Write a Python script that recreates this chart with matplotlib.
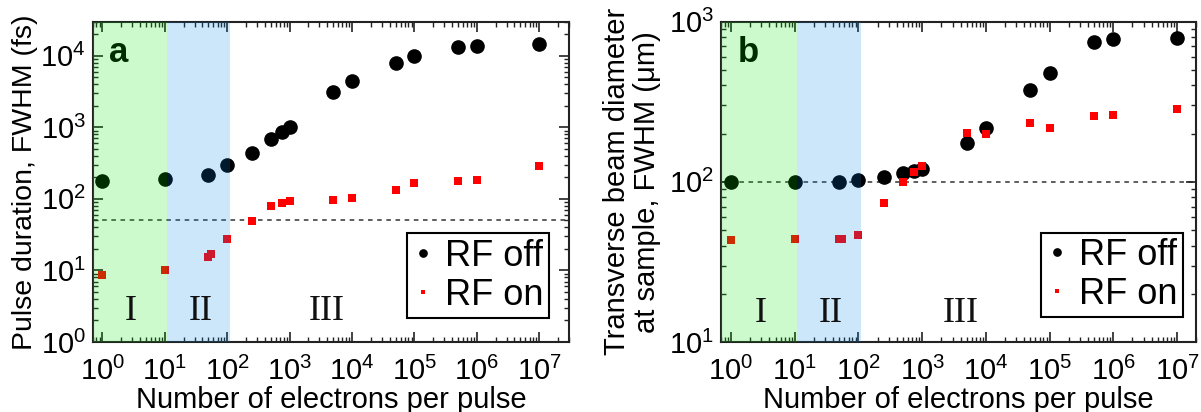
import matplotlib
matplotlib.use("Agg")
import matplotlib.pyplot as plt
import numpy as np
from matplotlib.ticker import LogLocator, NullFormatter

plt.rcParams['font.family'] = ['Liberation Sans', 'DejaVu Sans']
plt.rcParams['mathtext.fontset'] = 'custom'
plt.rcParams['mathtext.rm'] = 'Liberation Sans'

# ---- data ----
n_off = [1, 10, 50, 100, 250, 500, 750, 1000, 5000, 1e4, 5e4, 1e5, 5e5, 1e6, 1e7]
n_on_a = [1, 10, 50, 56, 100, 250, 500, 750, 1000, 5000, 1e4, 5e4, 1e5, 5e5, 1e6, 1e7]
dur_off = [175, 188, 214, 300, 434, 687, 869, 1020, 3090, 4470, 7950, 9860, 13200, 13900, 14400]
dur_on = [8.7, 10.2, 15.4, 17.0, 27.9, 48.9, 80, 88, 92, 95, 102, 131, 169, 177, 182, 286]

n_on_b = [1, 10, 50, 56, 100, 250, 500, 750, 1000, 5000, 1e4, 5e4, 1e5, 5e5, 1e6, 1e7]
diam_off = [100, 100, 100, 102, 107, 113, 117, 121, 174, 218, 374, 478, 750, 776, 794]
diam_on = [43.3, 43.7, 44, 43.7, 46.3, 73.6, 100, 115, 126, 202, 200, 233, 218, 258, 260, 283]

dur_ref = 50
diam_ref = 100
region_edges = [11, 110]
region_labels = ['I', 'II', 'III']

fig = plt.figure(figsize=(12.01, 4.12), dpi=100)
ax1 = fig.add_axes([0.0772, 0.170, 0.3966, 0.7774])
ax2 = fig.add_axes([0.6005, 0.170, 0.3955, 0.7774])


def style(ax, xlim, ylim):
    ax.set_xscale('log')
    ax.set_yscale('log')
    ax.set_xlim(*xlim)
    ax.set_ylim(*ylim)
    ax.xaxis.set_major_locator(LogLocator(base=10, numticks=20))
    ax.xaxis.set_minor_locator(LogLocator(base=10, subs=np.arange(2, 10), numticks=20))
    ax.yaxis.set_major_locator(LogLocator(base=10, numticks=20))
    ax.yaxis.set_minor_locator(LogLocator(base=10, subs=np.arange(2, 10), numticks=20))
    ax.xaxis.set_minor_formatter(NullFormatter())
    ax.yaxis.set_minor_formatter(NullFormatter())
    ax.tick_params(which='both', direction='in', top=True, right=True, labelsize=21,
                   color='#222222')
    ax.tick_params(which='major', length=7, width=1.2)
    ax.tick_params(axis='x', which='major', pad=11)
    ax.tick_params(axis='y', which='major', pad=5)
    ax.tick_params(which='minor', length=3.5, width=1.0)
    for s in ax.spines.values():
        s.set_linewidth(1.5)
        s.set_color('#222222')
    ax.set_xlabel('Number of electrons per pulse', fontsize=21, labelpad=0)


def regions(ax, xmin, ly):
    ax.axvspan(xmin, region_edges[0], color=(0, 0.9, 0), alpha=0.2, lw=0, zorder=4)
    ax.axvspan(region_edges[0], region_edges[1], color=(0, 0.51, 0.9), alpha=0.2, lw=0, zorder=4)
    for lab, xx in zip(region_labels, [2.9, 37, 4000]):
        ax.text(xx, ly, lab, family='Liberation Serif', fontsize=26, ha='center', va='center',
                color='#111111', zorder=5)


def legend(ax, anchor):
    leg = ax.legend(loc='lower right', bbox_to_anchor=anchor, fontsize=26,
                    markerscale=0.55, handlelength=0.6, handletextpad=0.3, borderpad=0.15,
                    labelspacing=0.1, borderaxespad=0, fancybox=False, framealpha=1,
                    edgecolor='black')
    leg.get_frame().set_linewidth(1.5)
    leg.set_zorder(6)


# ---- panel a ----
style(ax1, (0.7, 3e7), (1, 3e4))
ax1.axhline(dur_ref, color='#333333', lw=1.1, ls=(0, (3, 3)), zorder=1)
ax1.plot(n_off, dur_off, 'o', color='black', ms=9.5, ls='none', label='RF off', zorder=2)
ax1.plot(n_on_a, dur_on, 's', color='red', ms=6, mew=0, ls='none', label='RF on', zorder=2)
regions(ax1, 0.7, 2.65)
ax1.set_ylabel('Pulse duration, FWHM (fs)', fontsize=20.5)
ax1.yaxis.set_label_coords(-0.115, 0.5)
ax1.text(0.055, 0.905, 'a', transform=ax1.transAxes, fontsize=25, fontweight='bold',
         ha='center', va='center', zorder=3)
legend(ax1, (0.958, 0.075))

# ---- panel b ----
style(ax2, (0.7, 2e7), (10, 1000))
ax2.axhline(diam_ref, color='#333333', lw=1.1, ls=(0, (3, 3)), zorder=1)
ax2.plot(n_off, diam_off, 'o', color='black', ms=9.5, ls='none', label='RF off', zorder=2)
ax2.plot(n_on_b, diam_on, 's', color='red', ms=6, mew=0, ls='none', label='RF on', zorder=2)
regions(ax2, 0.7, 15)
ax2.set_ylabel('Transverse beam diameter\nat sample, FWHM (\u03bcm)', fontsize=21,
               linespacing=1.1)
ax2.yaxis.set_label_coords(-0.126, 0.5)
ax2.text(0.057, 0.905, 'b', transform=ax2.transAxes, fontsize=25, fontweight='bold',
         ha='center', va='center', zorder=3)
legend(ax2, (0.972, 0.078))

fig.savefig('out.png', dpi=100)
